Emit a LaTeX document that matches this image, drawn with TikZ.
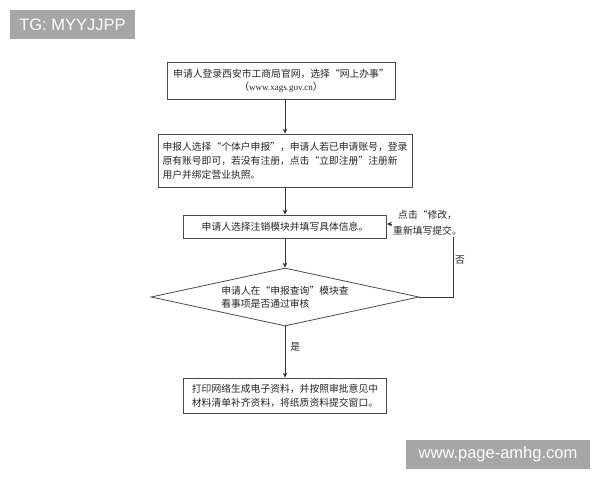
\documentclass[tikz,border=0pt]{standalone}
\usepackage{fontspec}
\setmainfont{Liberation Serif}
\newfontfamily\cjk{Noto Sans CJK SC}
\newfontfamily\wmfont{Liberation Sans}
\usetikzlibrary{shapes.geometric,arrows.meta}
\definecolor{wmgray}{HTML}{A6A6A6}
\definecolor{boxline}{HTML}{4A4A4A}
\tikzset{
  x=1pt,y=-1pt,
  stepbox/.style={draw=boxline,line width=0.8pt,rectangle,inner sep=0pt,
    font=\cjk\fontsize{9.8}{14}\selectfont,text=black!85},
  decision/.style={draw=boxline,line width=0.8pt,diamond,shape aspect=4.6,
    inner sep=0pt,minimum width=268pt,minimum height=58pt,
    font=\cjk\fontsize{9.8}{13}\selectfont,align=left,text=black!85},
  arr/.style={draw=black!80,line width=0.8pt,-{Stealth[length=5pt,width=4.5pt]}},
  lbl/.style={font=\cjk\fontsize{9.8}{16}\selectfont,text=black!85,inner sep=1pt},
  wm/.style={fill=wmgray,text=white,font=\wmfont\fontsize{16.5}{18}\selectfont,
    inner sep=0pt,minimum height=29pt}
}
\begin{document}
\begin{tikzpicture}
\useasboundingbox[fill=white] (0,0) rectangle (600,480);
\node[wm,minimum width=125pt] (wm1) at (72.5,24.5) {TG: MYYJJPP};
\node[wm,minimum width=184pt] (wm2) at (498,454.5) {www.page-amhg.com};

\node[stepbox,minimum width=228pt,minimum height=37pt,align=center] (b1) at (281,80.5)
  {申请人登录西安市工商局官网，选择“网上办事”\\[-1pt]（{\rmfamily\fontsize{9}{12}\selectfont www.xags.gov.cn}）};
\node[stepbox,minimum width=254pt,minimum height=53pt,align=left] (b2) at (285,160.5)
  {申报人选择“个体户申报”，申请人若已申请账号，登录\\原有账号即可，若没有注册，点击“立即注册”注册新\\用户并绑定营业执照。};
\node[stepbox,minimum width=203pt,minimum height=23pt] (b3) at (285,226.5)
  {申请人选择注销模块并填写具体信息。};
\node[decision] (d) at (285,297)
  {申请人在“申报查询”模块查\\看事项是否通过审核};
\node[stepbox,minimum width=203pt,minimum height=35pt,align=left] (b4) at (285,395.5)
  {打印网络生成电子资料，并按照审批意见中\\材料清单补齐资料，将纸质资料提交窗口。};

\coordinate (fb) at (453,224);
\draw[arr] (b1.south -| b2.north) -- (b2.north);
\draw[arr] (b2.south) -- (b3.north);
\draw[arr] (b3.south) -- (d.north);
\draw[arr] (d.south) -- node[lbl,right=4pt,pos=0.4] (yes) {是} (b4.north);
\draw[arr] (d.east) -| (fb) -- (b3.east |- fb);
\node[lbl,fill=white,align=left,anchor=west] (fix) at (392,223) {\hspace{5pt}点击“修改，\\重新填写提交。};
\node[lbl] (no) at (460,260) {否};
\end{tikzpicture}
\end{document}
